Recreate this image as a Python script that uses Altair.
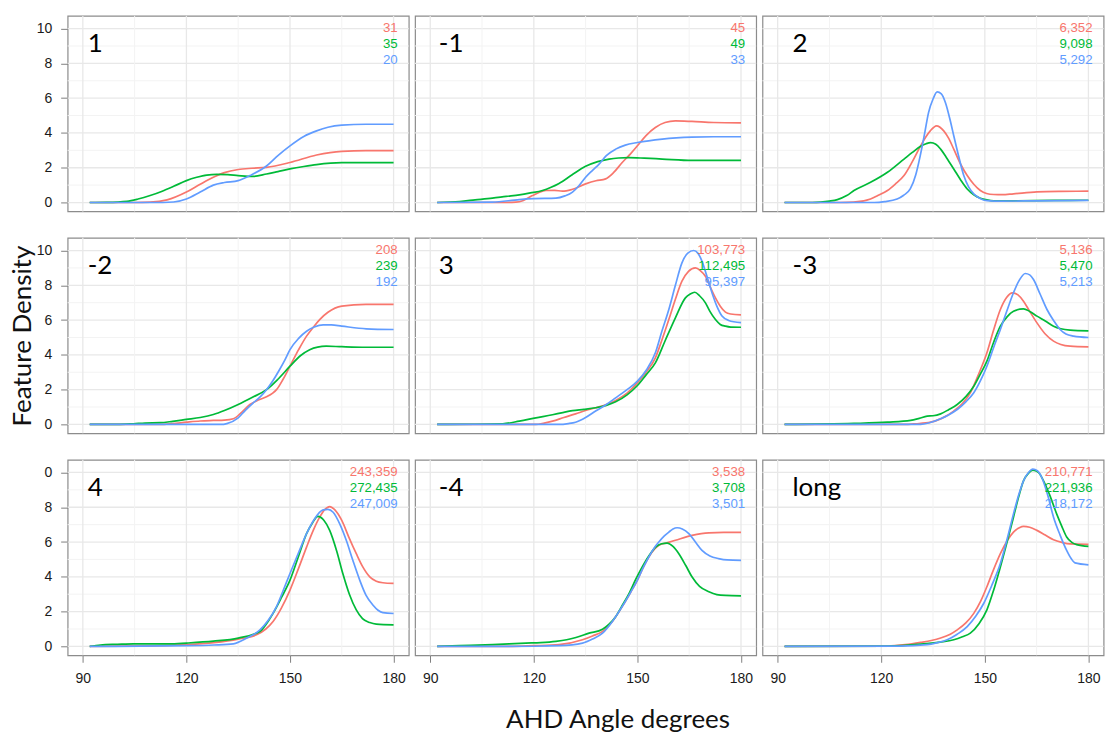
import altair as alt
import pandas as pd

PANELS = ["1", "-1", "2", "-2", "3", "-3", "4", "-4", "long"]
SERIES = ["red", "green", "blue"]
COLORS = ["#F8766D", "#00BA38", "#619CFF"]

COUNTS = {
    "1": ["31", "35", "20"],
    "-1": ["45", "49", "33"],
    "2": ["6,352", "9,098", "5,292"],
    "-2": ["208", "239", "192"],
    "3": ["103,773", "112,495", "95,397"],
    "-3": ["5,136", "5,470", "5,213"],
    "4": ["243,359", "272,435", "247,009"],
    "-4": ["3,538", "3,708", "3,501"],
    "long": ["210,771", "221,936", "218,172"],
}

X_MAJOR = [90, 120, 150, 180]
X_MINOR = [105, 135, 165]
Y_MAJOR = [0, 2, 4, 6, 8, 10]
Y_MINOR = [1, 3, 5, 7, 9]

CURVES_1 = {
    "red": ([92, 105, 109.5, 114.4, 120, 124, 127.8, 131, 135, 139, 143.2, 150, 157.7, 165, 172, 180],
            [0, 0, 0.02, 0.15, 0.6, 1.05, 1.45, 1.72, 1.9, 1.97, 2.02, 2.3, 2.73, 2.94, 2.98, 2.98]),
    "green": ([92, 97, 102.8, 106, 109.5, 113, 116.3, 120, 123, 125.9, 128.8, 132, 135, 139.4, 143.2, 146.5, 150, 154, 157.7, 165, 172, 180],
              [0, 0.01, 0.07, 0.2, 0.4, 0.65, 0.93, 1.26, 1.45, 1.58, 1.62, 1.6, 1.55, 1.5, 1.64, 1.78, 1.93, 2.07, 2.18, 2.29, 2.29, 2.29]),
    "blue": ([92, 110, 116.3, 120, 124, 127.8, 131, 135, 138.4, 143.2, 146.5, 150, 154, 157.7, 161, 165, 172, 180],
             [0, 0, 0.03, 0.2, 0.6, 1.0, 1.15, 1.26, 1.55, 2.1, 2.7, 3.26, 3.8, 4.12, 4.33, 4.45, 4.5, 4.5]),
}
CURVES_M1 = {
    "red": ([92, 110, 114.8, 117, 119.6, 121.5, 123.5, 126, 128.3, 131, 135, 138, 140.8, 143, 145.6, 148, 150, 152.5, 155.2, 158, 161, 165.8, 172, 180],
            [0, 0, 0.02, 0.12, 0.4, 0.58, 0.69, 0.7, 0.65, 0.75, 1.07, 1.25, 1.36, 1.7, 2.3, 2.8, 3.26, 3.85, 4.31, 4.6, 4.69, 4.66, 4.6, 4.58]),
    "green": ([92, 98.5, 103, 108, 112, 115.8, 119, 122.5, 125, 127.3, 131, 135, 138.5, 141.8, 144.5, 147.5, 152, 157.2, 165.8, 172, 180],
              [0, 0.06, 0.15, 0.25, 0.35, 0.44, 0.55, 0.69, 0.88, 1.1, 1.58, 2.08, 2.35, 2.5, 2.56, 2.58, 2.55, 2.5, 2.42, 2.42, 2.42]),
    "blue": ([92, 108, 115.8, 120, 126.4, 129, 131.2, 133, 135, 137, 138.9, 141, 143.7, 146.5, 150, 157.2, 165.8, 172, 180],
             [0, 0.02, 0.17, 0.22, 0.25, 0.38, 0.6, 0.95, 1.45, 1.85, 2.21, 2.7, 3.07, 3.3, 3.45, 3.65, 3.76, 3.78, 3.78]),
}
CURVES_2 = {
    "red": ([92, 108, 112, 116.9, 119, 121.8, 124, 126.6, 129, 131.4, 133, 134.2, 136, 138.1, 139.5, 141, 143, 144.9, 146.8, 148.7, 150.5, 152.6, 155, 158.3, 165.1, 172, 180],
            [0, 0, 0.02, 0.2, 0.4, 0.69, 1.05, 1.55, 2.35, 3.26, 3.8, 4.12, 4.41, 4.12, 3.7, 3.07, 2.2, 1.55, 1.05, 0.69, 0.52, 0.46, 0.45, 0.5, 0.61, 0.64, 0.65]),
    "green": ([92, 100, 102.5, 105, 107.3, 110, 112.1, 116.9, 121.8, 126.6, 129, 131.4, 133, 134.3, 135.8, 137.2, 139, 141, 143, 144.9, 146.8, 148.7, 150.6, 152.6, 158, 170, 180],
              [0, 0, 0.02, 0.08, 0.17, 0.4, 0.69, 1.16, 1.74, 2.5, 2.88, 3.23, 3.38, 3.44, 3.35, 3.07, 2.55, 1.93, 1.3, 0.78, 0.45, 0.25, 0.15, 0.1, 0.1, 0.12, 0.13]),
    "blue": ([92, 118, 121, 124.6, 126.5, 128.4, 130, 131.3, 132.5, 133.7, 135, 136.2, 137.4, 138.6, 140, 141, 142.5, 143.9, 145.3, 146.8, 148.5, 150.6, 155, 165, 180],
             [0, 0, 0.05, 0.2, 0.42, 0.78, 1.6, 2.7, 3.9, 5.17, 5.95, 6.36, 6.25, 5.74, 4.7, 3.84, 2.6, 1.55, 0.9, 0.5, 0.25, 0.11, 0.08, 0.1, 0.12]),
}
CURVES_M2 = {
    "red": ([92, 112.4, 116, 120, 124, 127.8, 131, 133.6, 136, 138.4, 141, 143.2, 145, 146.1, 148, 150, 152.5, 154.8, 156.8, 158.6, 161, 165, 172, 180],
            [0, 0, 0.05, 0.13, 0.2, 0.23, 0.25, 0.33, 0.7, 1.15, 1.42, 1.59, 1.8, 2.0, 2.6, 3.35, 4.3, 5.08, 5.6, 6.03, 6.45, 6.8, 6.9, 6.9]),
    "green": ([92, 100, 104.7, 108, 112.4, 116, 120, 124, 127.8, 131, 135, 139, 143.2, 146.5, 150, 153, 155.7, 158, 160.5, 165, 172, 180],
              [0, 0, 0.04, 0.08, 0.1, 0.18, 0.29, 0.4, 0.57, 0.8, 1.15, 1.55, 2.0, 2.6, 3.35, 3.95, 4.3, 4.45, 4.5, 4.47, 4.44, 4.44]),
    "blue": ([92, 130, 131.7, 135, 137, 139.4, 141.5, 143.2, 145, 147, 148.5, 150, 152.5, 154.8, 157, 159.6, 162, 165, 172.1, 180],
             [0, 0, 0.05, 0.38, 0.8, 1.25, 1.62, 2.0, 2.5, 3.16, 3.7, 4.3, 4.95, 5.36, 5.6, 5.73, 5.72, 5.65, 5.5, 5.46]),
}
CURVES_3 = {
    "red": ([92, 120.6, 123, 125.4, 128.7, 132.1, 135, 137.9, 141, 143.7, 147, 150, 152.5, 155.2, 157, 159.1, 161, 162.9, 164.8, 166.8, 168.2, 169.7, 171, 172.6, 174, 175.5, 177, 180],
            [0, 0, 0.08, 0.19, 0.4, 0.61, 0.8, 0.96, 1.15, 1.38, 1.8, 2.39, 3.0, 3.83, 4.8, 6.03, 7.2, 8.24, 8.8, 9.0, 8.85, 8.52, 7.95, 7.28, 6.8, 6.46, 6.35, 6.3]),
    "green": ([92, 111, 115.8, 120.6, 125.4, 128, 131.2, 134.5, 137.9, 141, 143.7, 147, 150, 152.5, 155.2, 158, 161, 163.9, 165.3, 166.6, 168, 169.7, 171, 172.6, 174, 175.5, 177, 180],
              [0, 0.04, 0.19, 0.38, 0.56, 0.67, 0.8, 0.87, 0.96, 1.1, 1.3, 1.7, 2.24, 2.85, 3.54, 4.8, 6.13, 7.28, 7.5, 7.6, 7.4, 6.99, 6.5, 6.03, 5.75, 5.65, 5.6, 5.59]),
    "blue": ([92, 127.3, 130, 132.1, 135, 137.9, 141, 143.7, 147, 150, 152.5, 155.2, 157, 159.1, 161, 162.9, 164.6, 166.3, 167.5, 168.7, 170, 171.6, 173, 174.5, 176.4, 180],
             [0, 0, 0.05, 0.13, 0.4, 0.77, 1.15, 1.53, 2.0, 2.49, 3.1, 4.12, 5.3, 6.61, 8.0, 9.29, 9.85, 10.0, 9.85, 9.39, 8.6, 7.57, 6.8, 6.23, 5.98, 5.86]),
}
CURVES_M3 = {
    "red": ([92, 126.6, 130, 134.3, 137.5, 141, 143.5, 145.8, 148, 150.6, 152.5, 154.5, 156.3, 158, 159.6, 161.2, 163, 165.1, 167.5, 169.9, 172, 174.7, 180],
            [0, 0, 0.04, 0.13, 0.35, 0.77, 1.2, 1.82, 2.8, 4.12, 5.4, 6.61, 7.3, 7.57, 7.45, 7.09, 6.5, 5.84, 5.2, 4.79, 4.6, 4.5, 4.46]),
    "green": ([92, 112.1, 121.8, 128.5, 131, 133.3, 135, 137.2, 139.5, 142, 144.5, 146.8, 148.7, 150.6, 152.5, 154.5, 156.5, 158.3, 161.2, 163, 165.1, 167.5, 169.9, 172, 174.7, 180],
              [0, 0.06, 0.13, 0.23, 0.35, 0.48, 0.5, 0.61, 0.85, 1.15, 1.6, 2.2, 2.9, 3.64, 4.7, 5.65, 6.2, 6.51, 6.65, 6.5, 6.23, 5.95, 5.65, 5.5, 5.42, 5.38]),
    "blue": ([92, 131.4, 134, 137.2, 139.5, 142, 144.5, 146.8, 148.7, 150.6, 152.5, 154.5, 156.5, 158.3, 160, 161.7, 163, 164.1, 166, 168, 170, 171.8, 173.5, 175.7, 180],
             [0, 0, 0.1, 0.33, 0.55, 0.86, 1.3, 1.82, 2.5, 3.35, 4.4, 5.46, 6.6, 7.57, 8.3, 8.68, 8.6, 8.33, 7.5, 6.61, 5.95, 5.46, 5.2, 5.08, 5.0]),
}
CURVES_4 = {
    "red": ([92, 110, 120, 128, 135, 140.3, 143, 145.1, 147.5, 150, 152.5, 154.8, 156.8, 158.6, 160, 161.5, 163, 165, 167, 169.2, 171, 173.1, 175, 176.9, 180],
            [0, 0.03, 0.1, 0.22, 0.42, 0.67, 1.0, 1.43, 2.2, 3.24, 4.5, 5.71, 6.7, 7.43, 7.85, 8.04, 7.85, 7.24, 6.3, 5.33, 4.6, 4.0, 3.75, 3.66, 3.62]),
    "green": ([92, 95.1, 100, 104.7, 109.5, 115, 120, 127.8, 135, 141.3, 143.2, 145.1, 147.5, 150, 152.5, 154.8, 156.5, 158.1, 159.8, 161.5, 163.5, 165.3, 167.2, 169.2, 171, 173.1, 175, 180],
              [0, 0.08, 0.12, 0.15, 0.15, 0.14, 0.19, 0.3, 0.48, 0.86, 1.3, 1.9, 2.8, 3.81, 5.2, 6.48, 7.1, 7.47, 7.25, 6.67, 5.5, 4.19, 3.0, 2.1, 1.6, 1.37, 1.28, 1.24]),
    "blue": ([92, 120, 128, 133.6, 137.5, 141.3, 143.7, 146.1, 148, 150, 152.5, 154.8, 157, 159.6, 161, 162.5, 164.5, 166.3, 168.2, 170.2, 172, 174, 175.5, 176.9, 180],
             [0, 0.04, 0.08, 0.15, 0.48, 0.95, 1.5, 2.29, 3.2, 4.19, 5.4, 6.48, 7.3, 7.85, 7.88, 7.71, 7.0, 6.1, 4.95, 3.81, 2.95, 2.38, 2.08, 1.94, 1.89]),
}
CURVES_M4 = {
    "red": ([92, 112.9, 120, 127.3, 134.1, 137, 139.9, 142.8, 145.6, 148, 150, 151.6, 153.3, 155, 156.2, 158.5, 161, 165.8, 170.7, 175, 180],
            [0, 0, 0.04, 0.1, 0.38, 0.6, 0.86, 1.45, 2.29, 3.1, 3.81, 4.5, 5.14, 5.6, 5.81, 5.95, 6.1, 6.38, 6.53, 6.55, 6.55]),
    "green": ([92, 98.5, 108.1, 117.7, 122, 126.4, 129.5, 132.2, 136, 139.9, 141.8, 143.7, 145.6, 147.6, 149.5, 151.4, 153.3, 155.3, 157, 158.6, 160.3, 162, 164, 165.8, 168, 170.7, 173, 175.5, 180],
              [0, 0.04, 0.1, 0.19, 0.22, 0.29, 0.38, 0.51, 0.76, 0.99, 1.28, 1.71, 2.35, 3.05, 3.85, 4.57, 5.2, 5.71, 5.9, 5.94, 5.75, 5.33, 4.65, 4.0, 3.45, 3.14, 2.98, 2.93, 2.91]),
    "blue": ([92, 120, 127.3, 134.1, 137, 139.9, 142.8, 145.6, 148, 150, 151.6, 153.3, 155, 156.2, 157.8, 159.1, 160.3, 161.5, 163, 164.9, 166.8, 168.7, 171, 173.5, 176, 180],
             [0, 0.01, 0.04, 0.19, 0.42, 0.76, 1.45, 2.29, 3.1, 3.81, 4.5, 5.14, 5.7, 6.0, 6.35, 6.57, 6.75, 6.82, 6.75, 6.48, 6.0, 5.52, 5.2, 5.05, 4.97, 4.95]),
}
CURVES_LONG = {
    "red": ([92, 121.8, 127, 131.4, 134.5, 137.2, 140, 142, 144.5, 146.8, 148.8, 150.6, 152.5, 154.5, 156.4, 158.3, 160, 161.2, 163, 165.1, 167.5, 169.9, 172.3, 174.7, 180],
            [0, 0.02, 0.1, 0.23, 0.34, 0.48, 0.7, 0.95, 1.35, 1.9, 2.6, 3.43, 4.4, 5.33, 6.05, 6.57, 6.82, 6.9, 6.85, 6.67, 6.4, 6.13, 5.98, 5.89, 5.87]),
    "green": ([92, 121.8, 131.4, 137, 141, 143.5, 145.8, 148.3, 150.6, 152.5, 154.5, 156.5, 158.3, 159.8, 161.2, 162.6, 163.9, 165.5, 167, 168.8, 170.8, 172.3, 173.7, 175.2, 176.6, 180],
              [0, 0.02, 0.13, 0.25, 0.38, 0.55, 0.76, 1.3, 2.1, 3.2, 4.57, 6.05, 7.43, 8.6, 9.52, 9.95, 10.13, 10.0, 9.52, 8.7, 7.62, 6.9, 6.29, 5.98, 5.85, 5.75]),
    "blue": ([92, 125, 133.3, 136, 139.1, 142, 144.9, 147.4, 149.7, 152, 154.5, 156.5, 158.3, 159.8, 161.2, 162.6, 163.9, 165.2, 166.5, 168.2, 169.9, 171.8, 173.7, 175, 176.1, 180],
             [0, 0.02, 0.1, 0.2, 0.38, 0.7, 1.14, 1.75, 2.48, 3.5, 4.76, 6.2, 7.62, 8.7, 9.52, 9.98, 10.19, 10.1, 9.71, 8.7, 7.43, 6.4, 5.52, 5.05, 4.8, 4.69]),
}

ALL_CURVES = {
    "1": CURVES_1, "-1": CURVES_M1, "2": CURVES_2,
    "-2": CURVES_M2, "3": CURVES_3, "-3": CURVES_M3,
    "4": CURVES_4, "-4": CURVES_M4, "long": CURVES_LONG,
}

rows = []
for p, curves in ALL_CURVES.items():
    for s in SERIES:
        xs, ys = curves[s]
        for i, (xv, yv) in enumerate(zip(xs, ys)):
            rows.append({"panel": p, "series": s, "x": xv, "y": yv, "i": i})
df = pd.DataFrame(rows)

XDOM = [85.6, 184.4]
YDOM = [-0.51, 10.73]
W, H = 342, 196
LABEL_X = [91.4, 92.5, 94.3]
COUNT_Y = [9.81, 8.89, 7.97]

xscale = alt.Scale(domain=XDOM, nice=False, zero=False)
yscale = alt.Scale(domain=YDOM, nice=False, zero=False)
cscale = alt.Scale(domain=SERIES, range=COLORS)

AX = dict(grid=False, domain=False, tickSize=7, tickColor="#808080", tickWidth=1,
          labelFont="Liberation Sans", labelFontSize=14, labelColor="#1a1a1a",
          labelOverlap=False, labelFlush=False, labelBound=False,
          titleFont="Lato", titleFontSize=26, titleFontWeight="normal", titleColor="#111111")


def panel(idx, name):
    r, c = divmod(idx, 3)
    d = df[df.panel == name]

    if c == 0:
        ykw = dict(AX, values=Y_MAJOR, labelPadding=9, titlePadding=1,
                   title=("Feature Density" if r == 1 else None))
        if r == 2:
            ykw["labelExpr"] = "datum.value == 10 ? '0' : datum.label"
        yaxis = alt.Axis(**ykw)
    else:
        yaxis = None
    if r == 2:
        xkw = dict(AX, values=X_MAJOR, labelPadding=9,
                   title=("AHD Angle degrees" if c == 1 else None))
        if c == 1:
            xkw.update(titleX=W / 2 + 32, titleY=72, titleBaseline="alphabetic",
                       titleAlign="center")
        xaxis = alt.Axis(**xkw)
    else:
        xaxis = None

    def ych(field):
        return alt.Y(field, scale=yscale, axis=yaxis)

    def xch(field):
        return alt.X(field, scale=xscale, axis=xaxis)

    def ydat(v):
        return alt.YDatum(v, scale=yscale, axis=yaxis)

    def xdat(v):
        return alt.XDatum(v, scale=xscale, axis=xaxis)

    gy_minor = alt.Chart(pd.DataFrame({"g": Y_MINOR})).mark_rule(
        color="#f3f3f3", strokeWidth=1).encode(y=ych("g:Q"))
    gy_major = alt.Chart(pd.DataFrame({"g": Y_MAJOR})).mark_rule(
        color="#e8e8e8", strokeWidth=1.3).encode(y=ych("g:Q"))
    gx_minor = alt.Chart(pd.DataFrame({"g": X_MINOR})).mark_rule(
        color="#f3f3f3", strokeWidth=1).encode(x=xch("g:Q"))
    gx_major = alt.Chart(pd.DataFrame({"g": X_MAJOR})).mark_rule(
        color="#e8e8e8", strokeWidth=1.3).encode(x=xch("g:Q"))

    lines = alt.Chart(d).mark_line(strokeWidth=1.7, interpolate="monotone").encode(
        x=xch("x:Q"),
        y=ych("y:Q"),
        color=alt.Color("series:N", scale=cscale, legend=None),
        order=alt.Order("i:Q"),
    )

    label = alt.Chart(pd.DataFrame({"t": [name]})).mark_text(
        align="left", baseline="alphabetic", font="Lato", fontSize=26, color="#000000"
    ).encode(x=xdat(LABEL_X[c]), y=ydat(8.64), text="t:N")

    layers = [gy_minor, gy_major, gx_minor, gx_major, lines, label]
    for k, s in enumerate(SERIES):
        layers.append(
            alt.Chart(pd.DataFrame({"t": [COUNTS[name][k]]})).mark_text(
                align="right", baseline="alphabetic", font="Liberation Sans",
                fontSize=13.3, color=COLORS[k]
            ).encode(x=xdat(181.2), y=ydat(COUNT_Y[k]), text="t:N")
        )
    return alt.layer(*layers).properties(width=W, height=H)


charts = [panel(i, p) for i, p in enumerate(PANELS)]

chart = alt.concat(*charts, columns=3, bounds="flush",
                   spacing=alt.RowColnumber(row=26.5, column=6.3)).properties(
    padding={"left": 7.8, "top": 13, "right": 0, "bottom": 0},
    background="white",
).configure_view(stroke="#8c8c8c", strokeWidth=1.2)

chart.save("out.html", embed_options={"renderer": "svg", "actions": False})
